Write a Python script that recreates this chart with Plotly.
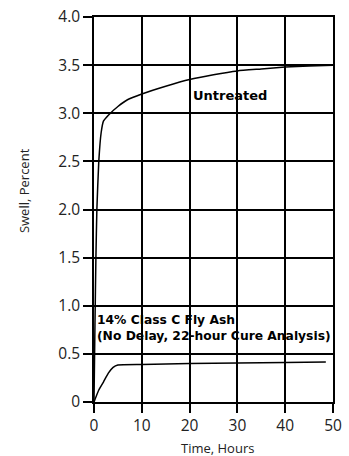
import plotly.graph_objects as go

untreated_hours = [0, 0.2, 0.4, 0.6, 1.0, 1.5, 2.0, 3, 5, 7, 10, 15, 20, 25, 30, 35, 40, 45, 50]
untreated_swell = [0, 0.8, 1.5, 2.0, 2.5, 2.8, 2.92, 2.98, 3.07, 3.14, 3.20, 3.28, 3.35, 3.40, 3.44, 3.46, 3.48, 3.49, 3.50]

flyash_hours = [0, 1, 2, 3, 4, 5, 10, 20, 30, 40, 48.5]
flyash_swell = [0, 0.125, 0.21, 0.30, 0.36, 0.385, 0.39, 0.40, 0.405, 0.41, 0.415]

y_tickvals = [0, 0.5, 1.0, 1.5, 2.0, 2.5, 3.0, 3.5, 4.0]
y_ticktext = ["0", "0.5", "1.0", "1.5", "2.0", "2.5", "3.0", "3.5", "4.0"]
x_tickvals = [0, 10, 20, 30, 40, 50]

fig = go.Figure()
fig.add_trace(go.Scatter(x=untreated_hours, y=untreated_swell, mode="lines",
                         line=dict(color="black", width=1.5, shape="spline", smoothing=0.4),
                         showlegend=False))
fig.add_trace(go.Scatter(x=flyash_hours, y=flyash_swell, mode="lines",
                         line=dict(color="black", width=1.5, shape="spline", smoothing=0.4),
                         showlegend=False))

tick_font = dict(family="Open Sans", size=15.5, color="#222")
title_font = dict(family="Open Sans", size=13, color="#222222")
fig.update_xaxes(range=[0, 50], tickvals=x_tickvals, showgrid=True, gridcolor="black", gridwidth=1.5,
                 showline=True, linecolor="black", linewidth=1.5, mirror=True,
                 ticks="outside", ticklen=9, tickwidth=1.5, tickcolor="black",
                 tickfont=tick_font, zeroline=False, automargin=False)
fig.update_yaxes(range=[0, 4.0], tickvals=y_tickvals, ticktext=y_ticktext, showgrid=True,
                 gridcolor="black", gridwidth=1.5,
                 showline=True, linecolor="black", linewidth=1.5, mirror=True,
                 ticks="outside", ticklen=9, tickwidth=1.5, tickcolor="black",
                 tickfont=tick_font, zeroline=False, automargin=False)

# axis titles as paper-positioned annotations
fig.add_annotation(xref="paper", yref="paper", x=0.516, y=-0.1195, text="Time, Hours",
                   showarrow=False, xanchor="center", yanchor="middle", font=title_font)
fig.add_annotation(xref="paper", yref="paper", x=-0.2925, y=0.548, text="Swell, Percent",
                   showarrow=False, xanchor="center", yanchor="middle", textangle=-90, font=title_font)

fig.add_annotation(x=28.4, y=3.18, text="<b>Untreated</b>", showarrow=False,
                   font=dict(family="DejaVu Sans", size=13, color="black"))
fig.add_annotation(x=0.2, y=0.95, xanchor="left", yanchor="top", align="left",
                   text="<b>14% Class C Fly Ash<br>(No Delay, 22-hour Cure Analysis)</b>",
                   showarrow=False, font=dict(family="DejaVu Sans", size=12.3, color="black"))

fig.update_layout(width=349, height=456, margin=dict(l=94, r=16, t=17, b=54),
                  plot_bgcolor="white", paper_bgcolor="white")
fig.write_html("out.html", config={"displayModeBar": False},
               post_script="document.body.style.margin='0';document.body.style.overflow='hidden';")
